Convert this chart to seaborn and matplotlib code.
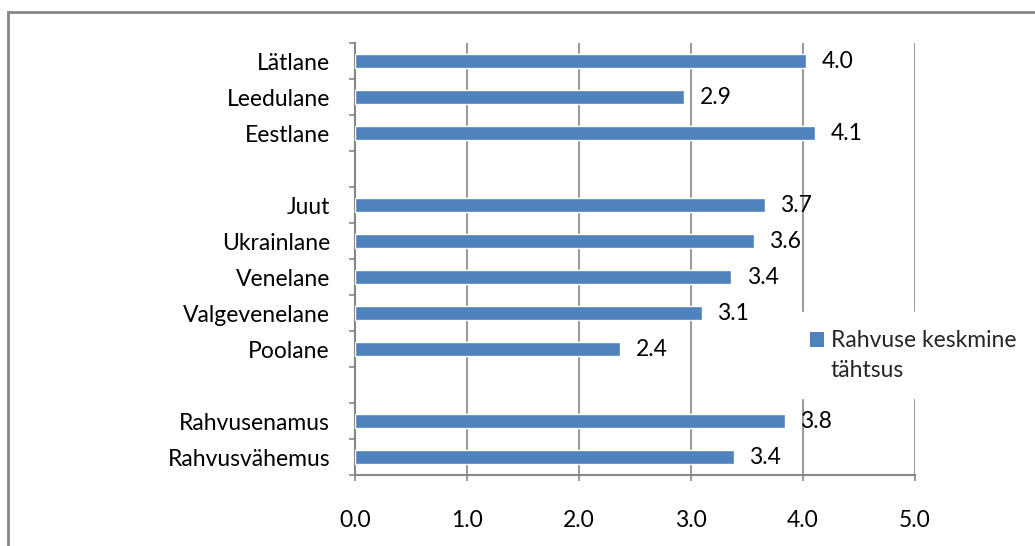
import numpy as np
import pandas as pd
import matplotlib
matplotlib.use("Agg")
import matplotlib.pyplot as plt
import seaborn as sns
from matplotlib.patches import Patch, Rectangle

categories = ["Lätlane", "Leedulane", "Eestlane", " ", "Juut", "Ukrainlane",
              "Venelane", "Valgevenelane", "Poolane", "  ", "Rahvusenamus", "Rahvusvähemus"]
values = [4.03, 2.94, 4.11, np.nan, 3.66, 3.56, 3.36, 3.10, 2.37, np.nan, 3.84, 3.38]
series_name = "Rahvuse keskmine\ntähtsus"
xticks = [0, 1, 2, 3, 4, 5]

sns.set_theme(style="white")
plt.rcParams['font.family'] = ['Lato', 'DejaVu Sans']

BLUE = "#4F81BD"
GRAY = "#868686"
FS = 16.5

fig = plt.figure(figsize=(10.35, 5.46), dpi=100)
ax = fig.add_axes([355/1035, 1-475/546, (915-355)/1035, (475-43)/546])

df = pd.DataFrame({"cat": categories, "val": values})
df_plot = df.dropna()
sns.barplot(data=df_plot, y="cat", x="val", order=categories, orient="h",
            color=BLUE, saturation=1, width=0.39, ax=ax, errorbar=None, zorder=3)

ax.set_xlim(0, 5)
ax.set_ylim(len(categories) - 0.5, -0.5)
ax.set_xticks(xticks)
ax.set_xticklabels([f"{t:.1f}" for t in xticks], fontsize=FS, color="black")
ax.set_yticks(range(len(categories)))
ax.set_yticklabels(categories, fontsize=FS, color="black")
ax.set_yticks(np.arange(-0.5, len(categories), 1), minor=True)
ax.tick_params(axis="y", which="major", length=0, pad=18)
ax.tick_params(axis="y", which="minor", length=4.5, color=GRAY, width=1.2, left=True)
ax.tick_params(axis="x", which="major", length=4.5, color=GRAY, width=1.2, bottom=True, pad=21)
ax.set_xlabel("")
ax.set_ylabel("")

for x in xticks[1:]:
    ax.axvline(x, color=GRAY, lw=1.2, zorder=1)

for s in ["top", "right"]:
    ax.spines[s].set_visible(False)
for s in ["left", "bottom"]:
    ax.spines[s].set_color(GRAY)
    ax.spines[s].set_linewidth(1.5)

for i, v in enumerate(values):
    if not np.isnan(v):
        ax.annotate(f"{v:.1f}", xy=(v, i), xytext=(11, 0), textcoords="offset points",
                    ha="left", va="center", fontsize=FS, color="black", zorder=5)

handle = Patch(facecolor=BLUE, edgecolor="none")
leg = fig.legend([handle], [series_name], loc="upper left",
                 bbox_to_anchor=(781/1035, 1-301/546), frameon=True,
                 fontsize=FS, handlelength=0.62, handleheight=0.62, handletextpad=0.3,
                 borderpad=0.75, labelspacing=0.2)
leg.get_texts()[0].set_linespacing(1.55)
hp = leg.legend_handles[0]
hp.set_y(hp.get_y() + 11.5)
leg.get_frame().set_facecolor("white")
leg.get_frame().set_edgecolor("white")
leg.get_frame().set_alpha(1)

fig.patches.append(Rectangle((8/1035, -0.1), 1.2, 1-12/546 + 0.1, transform=fig.transFigure,
                             fill=False, edgecolor=GRAY, lw=2, zorder=0))

fig.savefig("out.png", dpi=100, facecolor="white")
